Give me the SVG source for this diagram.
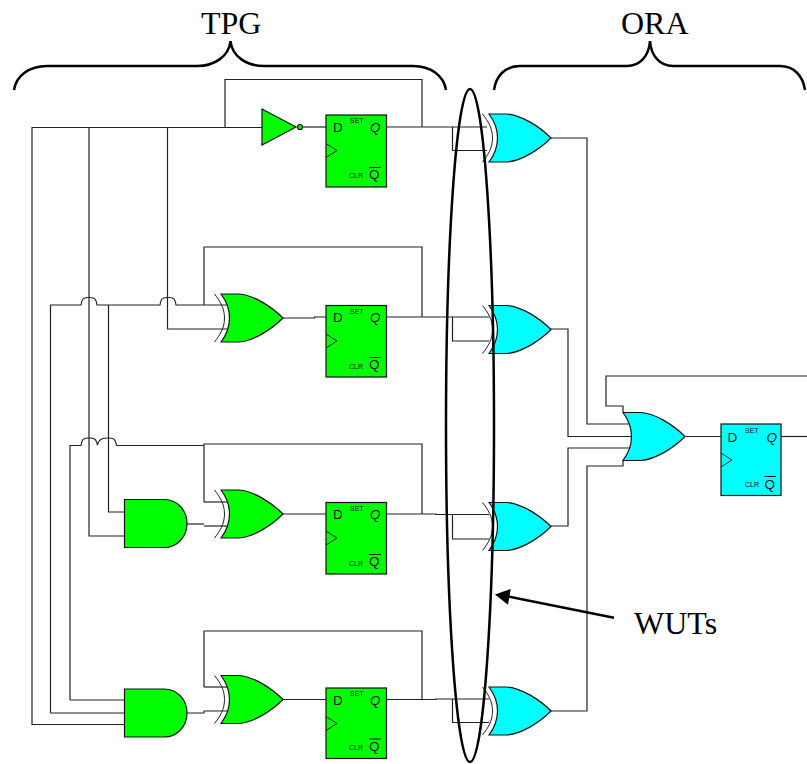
<svg xmlns="http://www.w3.org/2000/svg" width="807" height="764" viewBox="0 0 807 764">
<style>
.w{fill:none;stroke:#222;stroke-width:1.2}
.g{fill:#0f0}
.c{fill:#0ff}
.b{stroke:#111;stroke-width:1.2}
.a{fill:none;stroke:#222;stroke-width:1}
.h{fill:none;stroke:#000;stroke-width:2.5}
.l{font-family:"Liberation Serif","Times New Roman",serif;font-size:32px;fill:#000}
.d{font-family:"Liberation Sans",Arial,sans-serif;font-size:13.5px;fill:#111}
.i{font-style:italic}
.s{font-family:"Liberation Sans",Arial,sans-serif;font-size:7px;fill:#111}
.o{stroke:#111;stroke-width:1;fill:none}
</style>
<defs>
<path id="xorb" d="M0 0L18 0C32 1 50 12 62 24C50 36 32 47 18 48L0 48C6 40 8.5 32 8.5 24C8.5 16 6 8 0 0Z"/>
<path id="xora" d="M-6.5 0C-1 7 3.5 14 3.5 24C3.5 34 -1 41 -6.5 48"/>
<path id="andb" d="M0 0H40C52 0 62.5 10 62.5 24C62.5 38 52 48 40 48H0Z"/>
</defs>
<g id="connectors">
<path class="w" d="M262 127.5H32V724.5H124.5"/>
<path class="w" d="M89 127.5V536H124.5"/>
<path class="w" d="M167.5 127.5V329H227"/>
<path class="w" d="M225 127.5V79.5H422V127"/>
<path class="w" d="M303 127H326"/>
<path class="w" d="M386.5 127H487"/>
<path class="w" d="M452.5 127V150.5H487"/>
<path class="w" d="M50.5 713V305H81C82 298 84 297.5 89 297.5C94 297.5 96 298 97 305H160C161 298 163 297.5 168 297.5C173 297.5 175 298 176 305H227"/>
<path class="w" d="M108.5 305V512H124.5"/>
<path class="w" d="M204 305V247H422V317"/>
<path class="w" d="M283 318H314.5V317H326"/>
<path class="w" d="M386.5 317H489"/>
<path class="w" d="M452.5 317V341H489"/>
<path class="w" d="M70 700V445.5H81C82 438.5 84 438 89 438C94 438 96 438.5 97.5 445C99 438.5 103 438 108.5 438C113 438 115.5 438.5 116.5 445.5H204"/>
<path class="w" d="M70 700H124.5"/>
<path class="w" d="M50.5 713H124.5"/>
<path class="w" d="M204 502V444H422V514"/>
<path class="w" d="M204 502H227"/>
<path class="w" d="M187 524H204"/>
<path class="w" d="M204 526H227"/>
<path class="w" d="M283 514H326"/>
<path class="w" d="M386.5 514H436V514.5H489"/>
<path class="w" d="M452.5 514.5V539H489"/>
<path class="w" d="M204 687V631H422V699.5"/>
<path class="w" d="M204 687H227"/>
<path class="w" d="M187 713H204V711H227"/>
<path class="w" d="M283 699.5H326"/>
<path class="w" d="M386.5 699.5H436V699H489"/>
<path class="w" d="M452.5 699V722.5H489"/>
<path class="w" d="M551 138H587V424H630"/>
<path class="w" d="M551 329H568V436.5H635"/>
<path class="w" d="M551 526H568V448H630"/>
<path class="w" d="M551 711H587V466H623V460"/>
<path class="w" d="M807 376H606V406H623V412"/>
<path class="w" d="M686 436.5H721"/>
<path class="w" d="M781 436.5H807"/>
</g>
<g id="not1"><path class="g b" d="M262 109L296 127L262 145Z"/><circle class="g b" cx="300" cy="127" r="2.5"/></g>
<g id="ff1" transform="translate(326 115)"><rect class="g b" width="60.5" height="72"/><path class="a" d="M0 28.5L11 35.5L0 42.5"/><text class="d" x="7" y="16.5">D</text><text class="d i" x="44" y="16.5">Q</text><text class="s" x="24" y="8">SET</text><text class="s" x="23" y="63">CLR</text><text class="d" x="43" y="63.500">Q</text><line class="o" x1="43" y1="52.5" x2="55" y2="52.5"/></g>
<g id="ff2" transform="translate(326 305.5)"><rect class="g b" width="60.5" height="71.5"/><path class="a" d="M0 28.5L11 35.5L0 42.5"/><text class="d" x="7" y="16.5">D</text><text class="d i" x="44" y="16.5">Q</text><text class="s" x="24" y="8">SET</text><text class="s" x="23" y="63">CLR</text><text class="d" x="43" y="63.500">Q</text><line class="o" x1="43" y1="52" x2="55" y2="52"/></g>
<g id="ff3" transform="translate(326 502.5)"><rect class="g b" width="60.5" height="71.5"/><path class="a" d="M0 28.5L11 35.5L0 42.5"/><text class="d" x="7" y="16.5">D</text><text class="d i" x="44" y="16.5">Q</text><text class="s" x="24" y="8">SET</text><text class="s" x="23" y="63">CLR</text><text class="d" x="43" y="63.500">Q</text><line class="o" x1="43" y1="52" x2="55" y2="52"/></g>
<g id="ff4" transform="translate(326 688)"><rect class="g b" width="60.5" height="70.5"/><path class="a" d="M0 28.5L11 35.5L0 42.5"/><text class="d" x="7" y="16.5">D</text><text class="d i" x="44" y="16.5">Q</text><text class="s" x="24" y="8">SET</text><text class="s" x="23" y="62">CLR</text><text class="d" x="43" y="62.500">Q</text><line class="o" x1="43" y1="51" x2="55" y2="51"/></g>
<g id="ff5" transform="translate(721 424)"><rect class="c b" width="60" height="71.5"/><path class="a" d="M0 29L11 36L0 43"/><text class="d" x="6.5" y="18">D</text><text class="d i" x="45.500" y="18">Q</text><text class="s" x="24" y="9">SET</text><text class="s" x="24" y="63">CLR</text><text class="d" x="43.500" y="64.500">Q</text><line class="o" x1="43.5" y1="52.5" x2="55" y2="52.5"/></g>
<g id="xor1" transform="translate(221 294)"><use href="#xorb" class="g b"/><use href="#xora" class="a"/></g>
<g id="xor2" transform="translate(221 490)"><use href="#xorb" class="g b"/><use href="#xora" class="a"/></g>
<g id="xor3" transform="translate(221 675.5)"><use href="#xorb" class="g b"/><use href="#xora" class="a"/></g>
<g id="and1" transform="translate(124.5 499.5)"><use href="#andb" class="g b"/></g>
<g id="and2" transform="translate(124.5 689)"><use href="#andb" class="g b"/></g>
<g id="xor4" transform="translate(489 114)"><use href="#xorb" class="c b"/><use href="#xora" class="a"/></g>
<g id="xor5" transform="translate(489 305.5)"><use href="#xorb" class="c b"/><use href="#xora" class="a"/></g>
<g id="xor6" transform="translate(489 502.5)"><use href="#xorb" class="c b"/><use href="#xora" class="a"/></g>
<g id="xor7" transform="translate(489 687)"><use href="#xorb" class="c b"/><use href="#xora" class="a"/></g>
<g id="or1" transform="translate(623 412.5)"><use href="#xorb" class="c b"/></g>
<g id="wut-ellipse"><ellipse class="h" cx="470" cy="425.5" rx="24" ry="336.5"/></g>
<g id="wut-arrow"><path class="h" d="M614 617.7L508 596.500"/><path d="M495 594.5L510.7 589L508 604.7Z" fill="#000"/></g>
<g id="tpg"><path class="h" d="M14 90C16 76 29 66 47 66H197C215 66 229 56 230.5 41C232 56 246 66 264 66H413C431 66 444 76 446 90"/><text class="l" x="201" y="34">TPG</text></g>
<g id="ora"><path class="h" d="M494 90C496 76 505 66 520 66H627C640 66 649 56 650 41C651 56 660 66 673 66H780C794 66 803 76 805 90"/><text class="l" x="621" y="34">ORA</text></g>
<text id="wuts" class="l" x="634" y="634">WUTs</text>
</svg>
